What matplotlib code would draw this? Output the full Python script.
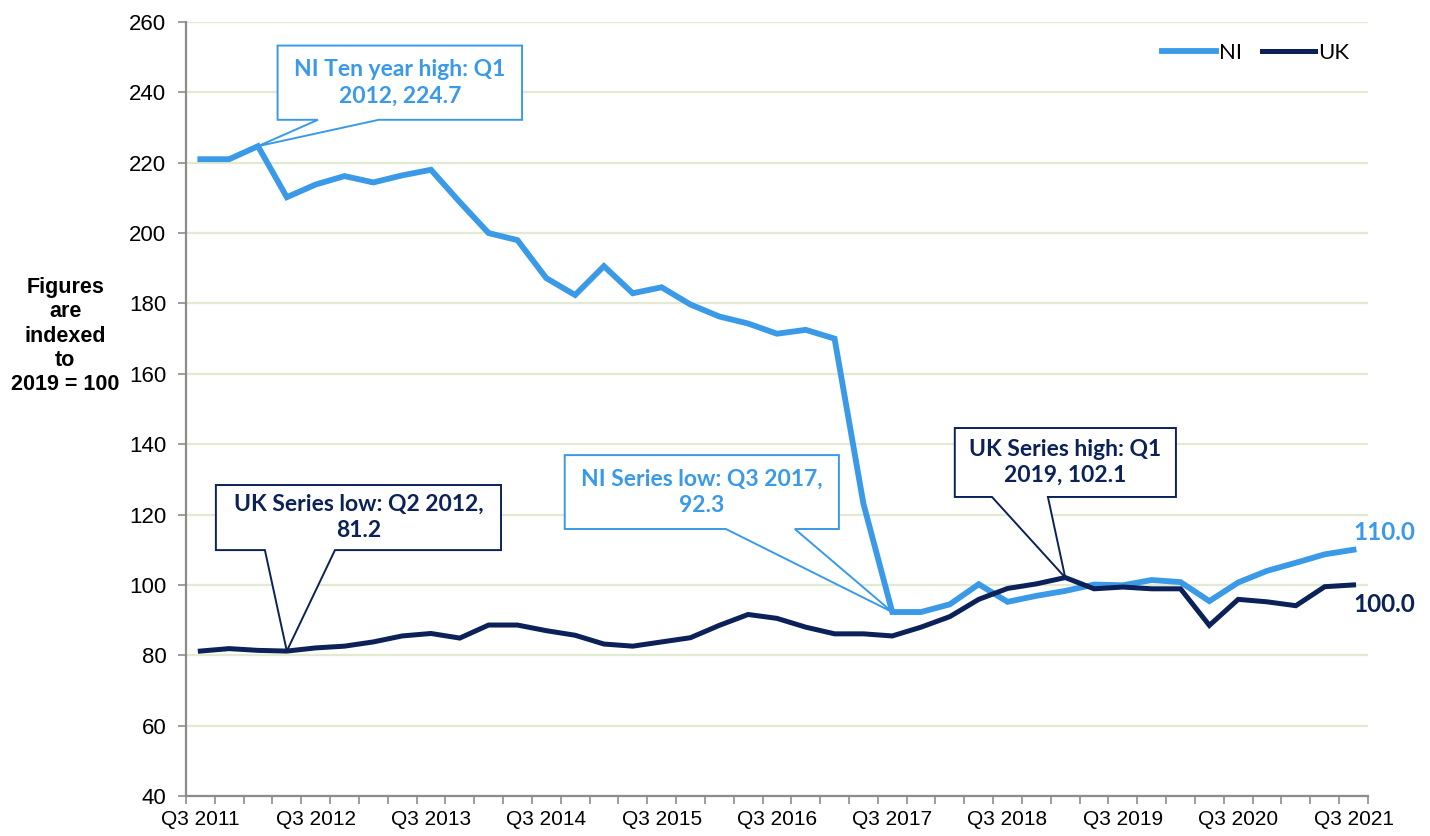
import matplotlib
matplotlib.use("Agg")
import matplotlib.pyplot as plt
from matplotlib.patches import Polygon
import numpy as np

plt.rcParams["font.family"] = "Liberation Sans"

# quarters Q3 2011 .. Q3 2021
quarters = []
for yr in range(2011, 2022):
    for q in (1, 2, 3, 4):
        if (yr == 2011 and q < 3) or (yr == 2021 and q > 3):
            continue
        quarters.append("Q%d %d" % (q, yr))

ni = [221.0, 221.0, 224.7, 210.2, 213.8, 216.2, 214.4, 216.4, 218.0, 208.8,
      200.0, 198.0, 187.2, 182.4, 190.6, 182.9, 184.6, 179.7, 176.3, 174.3,
      171.4, 172.5, 170.0, 123.1, 92.3, 92.3, 94.5, 100.2, 95.2, 96.9,
      98.3, 100.1, 99.9, 101.4, 100.8, 95.4, 100.7, 104.0, 106.3, 108.7,
      110.0]
uk = [81.2, 81.9, 81.4, 81.2, 82.1, 82.6, 83.8, 85.5, 86.2, 84.9,
      88.6, 88.6, 87.0, 85.7, 83.2, 82.6, 83.8, 85.0, 88.5, 91.6,
      90.5, 88.0, 86.1, 86.1, 85.5, 88.0, 91.0, 95.9, 99.0, 100.3,
      102.1, 98.9, 99.4, 98.9, 98.9, 88.5, 95.9, 95.2, 94.1, 99.5,
      100.0]

NI_COL = "#3A9AE8"
UK_COL = "#0B2158"
GRID_COL = "#E2EAD2"
AXIS_COL = "#8C8C8C"

x = np.arange(len(quarters))

fig = plt.figure(figsize=(14.3, 8.36), dpi=100)
ax = fig.add_axes([0.130, 0.0478, 0.8266, 0.9259])

ax.plot(x, ni, color=NI_COL, lw=4.2, label="NI", solid_joinstyle="miter", zorder=3)
ax.plot(x, uk, color=UK_COL, lw=3.6, label="UK", solid_joinstyle="miter", zorder=3)

ax.set_xlim(-0.5, len(quarters) - 0.5)
ax.set_ylim(40, 260)
ax.set_yticks(np.arange(40, 261, 20))
ax.yaxis.grid(True, color=GRID_COL, lw=1.6)
ax.set_axisbelow(True)

# labels every fourth quarter, tick marks between categories
ax.set_xticks(x[::4])
ax.set_xticklabels(quarters[::4])
ax.set_xticks(np.arange(-0.5, len(quarters), 1), minor=True)
ax.tick_params(axis="x", which="major", length=0, pad=10, labelsize=15)
ax.tick_params(axis="x", which="minor", length=6, color=AXIS_COL, width=1.2)
ax.tick_params(axis="y", length=6, color=AXIS_COL, width=1.2, pad=8, labelsize=16)

for s in ("top", "right"):
    ax.spines[s].set_visible(False)
for s in ("left", "bottom"):
    ax.spines[s].set_color(AXIS_COL)
    ax.spines[s].set_linewidth(1.6)

fig.text(0.0455, 0.598, "Figures\nare\nindexed\nto\n2019 = 100", ha="center", va="center",
         fontsize=15.5, fontweight="bold", linespacing=1.2)

leg = ax.legend(loc="upper right", bbox_to_anchor=(0.992, 0.984), frameon=False, ncol=2,
                handlelength=2.4, handletextpad=0.15, columnspacing=0.9,
                borderaxespad=0.0, prop={"family": "Lato", "size": 16})


# callout box with a wedge pointing at one data point
def callout(txt, col, x0, x1, y1, y0, b0, b1, tip_x, tip_y):
    verts = [(b1, y0), (x1, y0), (x1, y1), (x0, y1), (x0, y0), (b0, y0), (tip_x, tip_y)]
    ax.add_patch(Polygon(verts, closed=True, fc="white", ec=col, lw=1.4, zorder=5,
                         joinstyle="miter"))
    ax.text((x0 + x1) / 2, (y0 + y1) / 2, txt, ha="center", va="center", color=col,
            fontsize=16.5, fontweight="bold", family="Lato", linespacing=1.3, zorder=6)


callout("NI Ten year high: Q1\n2012, 224.7", NI_COL, 2.68, 11.16, 253.3, 232.2,
        4.08, 6.19, 2, ni[2])
callout("UK Series low: Q2 2012,\n81.2", UK_COL, 0.54, 10.43, 128.4, 109.9,
        2.24, 4.67, 3, uk[3])
callout("NI Series low: Q3 2017,\n92.3", NI_COL, 12.64, 22.15, 136.9, 115.9,
        18.23, 20.62, 24, ni[24])
callout("UK Series high: Q1\n2019, 102.1", UK_COL, 26.17, 33.84, 144.6, 125.0,
        27.46, 29.4, 30, uk[30])

# end of series labels
ax.annotate("%.1f" % ni[-1], (x[-1], ni[-1]), xytext=(0, 4), textcoords="offset points",
            ha="left", va="bottom", color=NI_COL, fontsize=17.5, fontweight="bold",
            family="Lato", annotation_clip=False)
ax.annotate("%.1f" % uk[-1], (x[-1], uk[-1]), xytext=(0, -6), textcoords="offset points",
            ha="left", va="top", color=UK_COL, fontsize=17.5, fontweight="bold",
            family="Lato", annotation_clip=False)

fig.savefig("out.png", dpi=100)
